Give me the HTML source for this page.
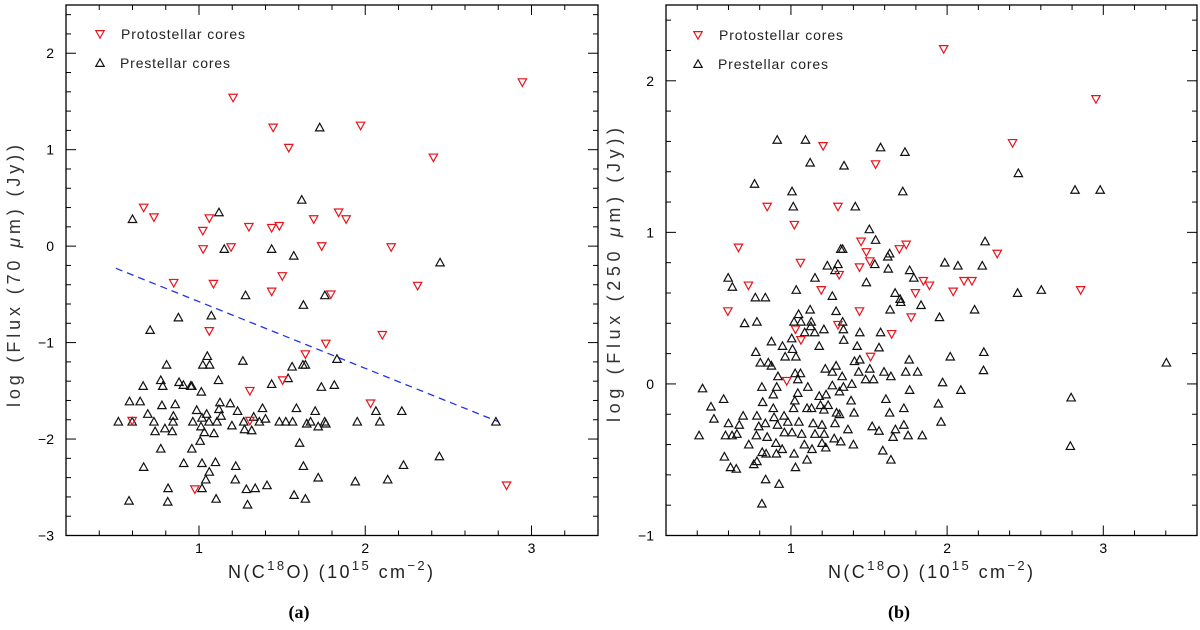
<!DOCTYPE html>
<html><head><meta charset="utf-8"><style>
html,body{margin:0;padding:0;background:#fff;}
svg{display:block;font-family:"Liberation Sans","DejaVu Sans",sans-serif;}
</style></head><body>
<svg id="fig" width="1200" height="630" viewBox="0 0 1200 630" xmlns="http://www.w3.org/2000/svg"></svg>
<script>
// ---- Panel (a): 70 um ----
const protoA_x=[1.205,2.945,1.446,1.972,1.54,2.41,0.667,0.729,1.062,1.023,1.30,1.437,1.483,1.69,1.84,1.885,1.025,1.193,1.738,2.156,0.848,1.087,1.501,1.437,1.793,2.315,1.062,2.103,1.763,1.64,1.503,1.306,2.032,0.598,1.306,0.975,2.85];
const protoA_y=[1.54,1.70,1.23,1.25,1.02,0.92,0.40,0.30,0.29,0.16,0.20,0.19,0.21,0.28,0.35,0.28,-0.03,-0.01,0.0,-0.01,-0.38,-0.39,-0.31,-0.47,-0.50,-0.41,-0.88,-0.92,-1.01,-1.12,-1.39,-1.50,-1.63,-1.81,-1.81,-2.52,-2.48];
const preA_x=[0.60,1.12,1.618,1.726,1.152,1.437,1.57,2.45,1.28,1.757,1.628,0.876,1.074,0.706,1.83,1.264,0.805,1.05,1.023,1.064,1.56,1.625,1.64,1.536,1.117,0.77,0.664,0.782,0.88,0.906,0.95,0.957,1.014,1.437,1.736,1.814,0.582,0.646,0.857,0.777,1.126,1.188,1.12,0.986,0.692,0.846,1.046,1.018,1.133,1.232,1.382,1.586,1.699,2.22,2.064,0.515,0.598,0.729,0.844,0.963,1.06,1.108,1.269,1.329,1.363,1.4,1.483,1.522,1.563,1.648,1.671,1.756,1.763,1.952,2.087,2.786,1.198,1.012,0.795,0.736,0.839,1.032,1.09,1.274,1.317,1.717,1.007,1.605,0.77,0.957,2.446,0.908,1.018,1.099,0.667,1.221,1.628,2.23,1.062,1.041,1.218,1.717,1.94,2.135,1.409,0.814,1.018,1.285,1.338,1.572,0.579,0.812,1.103,1.292,1.64];
const preA_y=[0.28,0.35,0.48,1.23,-0.03,-0.03,-0.10,-0.17,-0.51,-0.51,-0.61,-0.74,-0.72,-0.87,-1.17,-1.19,-1.23,-1.14,-1.23,-1.23,-1.25,-1.23,-1.23,-1.37,-1.39,-1.39,-1.45,-1.45,-1.41,-1.44,-1.45,-1.45,-1.51,-1.43,-1.46,-1.44,-1.61,-1.61,-1.64,-1.65,-1.62,-1.63,-1.69,-1.70,-1.74,-1.76,-1.74,-1.78,-1.76,-1.71,-1.68,-1.68,-1.71,-1.71,-1.71,-1.82,-1.82,-1.82,-1.82,-1.82,-1.82,-1.82,-1.82,-1.77,-1.82,-1.79,-1.82,-1.82,-1.82,-1.84,-1.82,-1.82,-1.84,-1.82,-1.82,-1.82,-1.86,-1.87,-1.89,-1.92,-1.92,-1.93,-1.94,-1.90,-1.91,-1.87,-2.02,-2.04,-2.10,-2.10,-2.18,-2.25,-2.25,-2.24,-2.29,-2.28,-2.28,-2.27,-2.34,-2.42,-2.42,-2.40,-2.44,-2.42,-2.48,-2.51,-2.51,-2.52,-2.51,-2.58,-2.64,-2.65,-2.62,-2.68,-2.62];
const fitA_x=[0.5,2.8];
const fitA_y=[-0.23,-1.82];
const ticksA_x=["1","2","3"];
const ticksA_y=["−3","−2","−1","0","1","2"];
// ---- Panel (b): 250 um ----
const protoB_x=[1.978,2.953,2.419,1.206,1.542,0.848,1.301,1.022,0.664,1.449,1.483,1.738,1.694,2.321,1.505,1.061,1.439,1.309,0.728,1.848,1.887,2.108,2.159,1.194,1.797,2.039,2.855,0.596,1.439,1.77,1.029,1.301,1.645,1.064,1.51,0.973];
const protoB_y=[2.21,1.88,1.59,1.57,1.45,1.17,1.17,1.05,0.90,0.94,0.87,0.92,0.89,0.86,0.81,0.80,0.77,0.72,0.65,0.68,0.65,0.68,0.68,0.62,0.60,0.61,0.62,0.48,0.48,0.44,0.36,0.39,0.33,0.29,0.18,0.02];
const preB_x=[0.912,1.093,1.574,1.73,1.123,1.34,2.456,0.767,1.007,1.716,2.819,2.98,1.015,1.412,1.502,1.542,2.243,1.319,1.331,1.632,1.62,1.985,1.537,2.069,2.225,1.233,1.301,1.282,1.623,1.76,0.598,1.154,1.787,1.483,0.625,1.034,1.667,2.451,2.603,0.772,0.836,1.265,1.699,1.703,1.833,1.123,1.635,2.176,1.289,1.049,1.951,0.703,0.782,1.02,1.064,1.13,1.331,1.127,1.211,1.336,1.088,1.152,1.441,1.574,1.005,0.875,1.338,0.946,1.181,1.01,1.424,1.564,0.775,0.963,1.032,2.235,2.02,1.757,1.407,1.441,0.804,0.855,0.875,1.22,1.289,1.505,2.233,3.404,1.027,1.061,1.265,1.596,1.735,1.811,1.434,0.917,1.328,1.64,1.044,1.478,1.529,1.971,1.39,0.434,0.814,0.909,1.108,1.265,1.336,1.044,1.311,1.76,2.088,0.569,0.887,1.181,1.225,1.608,2.794,0.819,1.025,1.385,0.488,1.189,1.238,1.103,1.132,1.211,1.017,0.887,1.944,1.723,1.292,1.404,0.694,0.507,0.782,0.892,0.956,1.632,1.311,0.60,0.669,0.794,0.836,0.914,0.98,1.051,1.142,1.199,1.282,1.961,1.723,1.52,1.564,1.669,1.365,0.412,0.581,0.623,0.654,0.779,0.848,0.958,1.007,1.069,1.154,1.213,1.277,1.319,1.654,1.75,1.841,0.73,0.904,1.086,1.199,1.4,0.816,0.907,0.944,1.02,1.135,1.223,2.789,0.574,0.841,1.588,1.103,1.64,0.762,0.782,0.613,0.65,1.029,0.838,0.924,0.814];
const preB_y=[1.61,1.61,1.56,1.53,1.46,1.44,1.39,1.32,1.27,1.27,1.28,1.28,1.17,1.17,1.02,0.95,0.94,0.89,0.89,0.86,0.84,0.80,0.79,0.78,0.78,0.78,0.79,0.75,0.76,0.75,0.70,0.70,0.70,0.67,0.64,0.62,0.60,0.60,0.62,0.57,0.57,0.58,0.56,0.54,0.52,0.49,0.49,0.49,0.48,0.46,0.44,0.40,0.41,0.41,0.41,0.41,0.41,0.38,0.36,0.36,0.34,0.34,0.34,0.34,0.30,0.28,0.29,0.25,0.25,0.23,0.25,0.24,0.21,0.18,0.18,0.21,0.18,0.16,0.15,0.16,0.14,0.14,0.12,0.10,0.12,0.10,0.09,0.14,0.07,0.07,0.08,0.08,0.08,0.08,0.08,0.05,0.05,0.05,0.03,0.03,0.03,0.01,0.00,-0.03,-0.02,-0.02,-0.02,-0.01,-0.02,-0.06,-0.05,-0.04,-0.04,-0.10,-0.07,-0.08,-0.07,-0.10,-0.09,-0.12,-0.11,-0.11,-0.15,-0.14,-0.14,-0.16,-0.16,-0.17,-0.16,-0.16,-0.13,-0.16,-0.19,-0.19,-0.21,-0.23,-0.21,-0.22,-0.21,-0.19,-0.20,-0.26,-0.27,-0.28,-0.26,-0.27,-0.25,-0.25,-0.26,-0.27,-0.26,-0.25,-0.27,-0.28,-0.31,-0.30,-0.30,-0.34,-0.34,-0.34,-0.33,-0.34,-0.35,-0.32,-0.32,-0.33,-0.33,-0.33,-0.36,-0.38,-0.35,-0.34,-0.34,-0.40,-0.39,-0.40,-0.39,-0.40,-0.45,-0.46,-0.43,-0.46,-0.43,-0.42,-0.41,-0.48,-0.46,-0.44,-0.50,-0.50,-0.53,-0.51,-0.55,-0.56,-0.55,-0.63,-0.66,-0.79];
const ticksB_x=["1","2","3"];
const ticksB_y=["−1","0","1","2"];

const NS="http://www.w3.org/2000/svg";
const svg=document.getElementById('fig');
function mk(tag,attrs,parent){const e=document.createElementNS(NS,tag);for(const k in attrs)e.setAttribute(k,attrs[k]);(parent||svg).appendChild(e);return e;}

function panel(cfg){
  const g=mk('g',{});
  
  
  const L=cfg.L,R=cfg.R,T=5,B=535.5;
  const sx=v=>L+(v-cfg.x0)/(cfg.x1-cfg.x0)*(R-L);
  const sy=v=>B-(v-cfg.y0)/(cfg.y1-cfg.y0)*(B-T);
  const frame=mk('rect',{x:L,y:T,width:R-L,height:B-T,fill:'none',stroke:'#000','stroke-width':1.3},g);
  
  
  const xt=mk('g',{stroke:'#000','stroke-width':1},g);
  
  
  for(let i=Math.ceil(cfg.x0*5);i<=Math.floor(cfg.x1*5);i++){
    const v=i/5,x=sx(v),maj=(i%5===0),len=maj?10:5;
    mk('line',{x1:x,y1:B,x2:x,y2:B-len},xt);
    mk('line',{x1:x,y1:T,x2:x,y2:T+len},xt);
  }
  cfg.tx.forEach(lbl=>{
    const v=parseFloat(lbl.replace('−','-'));
    const t=mk('text',{x:sx(v),y:553,'font-size':14,'text-anchor':'middle',fill:'#000'},g);
    t.textContent=lbl;
    
    
  });
  const yt=mk('g',{stroke:'#000','stroke-width':1},g);
  
  
  for(let i=Math.ceil(cfg.y0*5);i<=Math.floor(cfg.y1*5);i++){
    const v=i/5,y=sy(v),maj=(i%5===0),len=maj?10:5;
    mk('line',{x1:L,y1:y,x2:L+len,y2:y},yt);
    mk('line',{x1:R,y1:y,x2:R-len,y2:y},yt);
  }
  cfg.ty.forEach(lbl=>{
    const v=parseFloat(lbl.replace('−','-'));
    const t=mk('text',{x:L-12,y:sy(v)+5,'font-size':14,'text-anchor':'end',fill:'#000'},g);
    t.textContent=lbl;
    
    
  });
  const xl=mk('text',{x:L+162,y:578,'font-size':18,fill:'#222',textLength:205,lengthAdjust:'spacing'},g);
  
  
  xl.innerHTML='N(C<tspan dy="-8" font-size="13">18</tspan><tspan dy="8">O)  (10</tspan><tspan dy="-8" font-size="13">15</tspan><tspan dy="8"> cm</tspan><tspan dy="-8" font-size="13">−2</tspan><tspan dy="8">)</tspan>';
  const yl=mk('text',{x:0,y:0,'font-size':18,fill:'#333','text-anchor':'middle',textLength:cfg.yll,lengthAdjust:'spacing',transform:`translate(${L-46},${cfg.ylc}) rotate(-90)`},g);
  
  
  yl.innerHTML=cfg.ylabel;
  const cap=mk('text',{x:L+233,y:618,'font-size':18,'font-weight':'bold','font-family':'Liberation Serif, serif','text-anchor':'middle',fill:'#000'},g);
  cap.textContent=cfg.cap;
  
  
  if(cfg.fx){
    const fl=mk('line',{x1:sx(cfg.fx[0]),y1:sy(cfg.fy[0]),x2:sx(cfg.fx[1]),y2:sy(cfg.fy[1]),stroke:'#2233ee','stroke-width':1.3,'stroke-dasharray':'7,5'},g);
    
    
  }
  const h=4.2;
  const up=(x,y)=>`${x-h},${y+h*0.8} ${x+h},${y+h*0.8} ${x},${y-h*1.0}`;
  const dn=(x,y)=>`${x-h},${y-h*0.8} ${x+h},${y-h*0.8} ${x},${y+h*1.0}`;
  const gp=mk('g',{fill:'none',stroke:'#111','stroke-width':1.2},g);
  
  
  cfg.prex.forEach((v,i)=>{
    const p=mk('polygon',{points:up(sx(v),sy(cfg.prey[i]))},gp);
    
    
  });
  const gr=mk('g',{fill:'none',stroke:'#e8141b','stroke-width':1.2},g);
  
  
  cfg.prox.forEach((v,i)=>{
    const p=mk('polygon',{points:dn(sx(v),sy(cfg.proy[i]))},gr);
    
    
  });
  const lg=mk('g',{},g);
  
  
  const lx=L+cfg.lgx;
  mk('polygon',{points:dn(lx,cfg.lgy),fill:'none',stroke:'#e8141b','stroke-width':1.2},lg);
  mk('polygon',{points:up(lx,cfg.lgy+29),fill:'none',stroke:'#111','stroke-width':1.2},lg);
  const t1=mk('text',{x:lx+21,y:cfg.lgy+5,'font-size':14,fill:'#222',textLength:124,lengthAdjust:'spacing'},lg);
  t1.textContent='Protostellar cores';
  
  
  const t2=mk('text',{x:lx+20,y:cfg.lgy+34,'font-size':14,fill:'#222',textLength:110,lengthAdjust:'spacing'},lg);
  t2.textContent='Prestellar cores';
  
  
}

panel({name:'panel-a-70um',L:66,R:598,x0:0.2,x1:3.4,y0:-3,y1:2.5,tx:ticksA_x,ty:ticksA_y,
  prox:protoA_x,proy:protoA_y,prex:preA_x,prey:preA_y,fx:fitA_x,fy:fitA_y,
  ylabel:'log  (Flux  (70  <tspan font-style="italic">μ</tspan>m)  (Jy))',ylc:276,yll:262,cap:'(a)',lgx:34,lgy:34});
panel({name:'panel-b-250um',L:666,R:1197,x0:0.2,x1:3.6,y0:-1,y1:2.5,tx:ticksB_x,ty:ticksB_y,
  prox:protoB_x,proy:protoB_y,prex:preB_x,prey:preB_y,
  ylabel:'log  (Flux  (250  <tspan font-style="italic">μ</tspan>m)  (Jy))',ylc:275,yll:294,cap:'(b)',lgx:32,lgy:35});
</script>
</body></html>
